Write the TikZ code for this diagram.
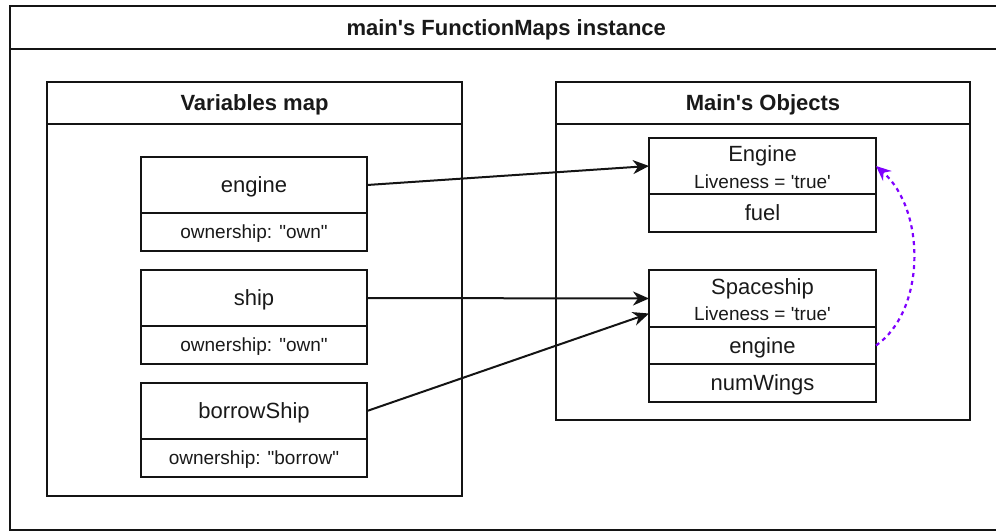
\documentclass[tikz,border=0pt]{standalone}
\usepackage{fontspec}
\setmainfont{Liberation Sans}[Ligatures=TeXOff]
\usetikzlibrary{arrows.meta}
\definecolor{linec}{RGB}{20,20,20}
\definecolor{txtc}{RGB}{25,25,25}
\definecolor{purp}{HTML}{7F00FF}
\newcommand{\titlef}{\fontsize{22}{26}\selectfont\bfseries}
\newcommand{\bigf}{\fontsize{22}{26}\selectfont}
\newcommand{\smallf}{\fontsize{19}{22}\selectfont}
\tikzset{
  cell/.style 2 args={draw=linec, line width=2pt, inner sep=0pt, outer sep=0pt,
    minimum width=#1pt, minimum height=#2pt, text=txtc, text depth=0pt},
  lbl/.style={inner sep=0pt, text=txtc, text depth=0pt},
  conn/.style={draw=linec, line width=2pt, -{Stealth[length=16pt,width=14pt,inset=5pt]}},
  dashconn/.style={draw=purp, line width=2.2pt, dash pattern=on 4pt off 4pt,
    -{Stealth[length=15pt,width=13pt,inset=5pt]}}
}
\begin{document}
\begin{tikzpicture}[x=1pt,y=-1pt]
\useasboundingbox (0,0) rectangle (996,531);
\clip (0,0) rectangle (996,531);
% outer container
\node[cell={993.5}{43}, font=\titlef] (outerhead) at (506.25,27.5) {main\textquotesingle s FunctionMaps instance};
\node[cell={993.5}{481}] (outerbody) at (506.25,289.5) {};
% variables map
\node[cell={415}{42}, font=\titlef] (varhead) at (254.5,103) {Variables map};
\node[cell={415}{372}] (varbody) at (254.5,310) {};
% objects
\node[cell={414}{42}, font=\titlef] (objhead) at (763,103) {Main\textquotesingle s Objects};
\node[cell={414}{296}] (objbody) at (763,272) {};
% variable boxes
\node[cell={226}{56}, font=\bigf] (vengine) at (254,185) {engine};
\node[cell={226}{38}, font=\smallf] (vengineown) at (254,232) {ownership: \textquotedbl own\textquotedbl};
\node[cell={226}{56}, font=\bigf] (vship) at (254,298) {ship};
\node[cell={226}{38}, font=\smallf] (vshipown) at (254,345) {ownership: \textquotedbl own\textquotedbl};
\node[cell={226}{56}, font=\bigf] (vborrow) at (254,411) {borrowShip};
\node[cell={226}{38}, font=\smallf] (vborrowown) at (254,458) {ownership: \textquotedbl borrow\textquotedbl};
% Engine object
\node[cell={227}{56}] (oengine) at (762.5,166) {};
\node[lbl, font=\bigf] (oenginename) at ([yshift=-16pt]oengine.north) {Engine};
\node[lbl, font=\smallf] (oenginelive) at ([yshift=-44pt]oengine.north) {Liveness = \textquotesingle true\textquotesingle};
\node[cell={227}{38}, font=\bigf] (ofuel) at (762.5,213) {fuel};
% Spaceship object
\node[cell={227}{57}] (oship) at (762.5,298.5) {};
\node[lbl, font=\bigf] (oshipname) at ([yshift=-17pt]oship.north) {Spaceship};
\node[lbl, font=\smallf] (oshiplive) at ([yshift=-44pt]oship.north) {Liveness = \textquotesingle true\textquotesingle};
\node[cell={227}{37}, font=\bigf] (oshipengine) at (762.5,345.5) {engine};
\node[cell={227}{38}, font=\bigf] (oshipwings) at (762.5,383) {numWings};
% connectors
\draw[conn] (vengine.east) -- (oengine.west);
\draw[conn] (vship.east) -- (oship.west);
\draw[conn] (vborrow.east) -- ([yshift=-15pt]oship.west);
\draw[dashconn] (oshipengine.east) .. controls +(50,-35) and +(50,44) .. (oengine.east);
\end{tikzpicture}
\end{document}
